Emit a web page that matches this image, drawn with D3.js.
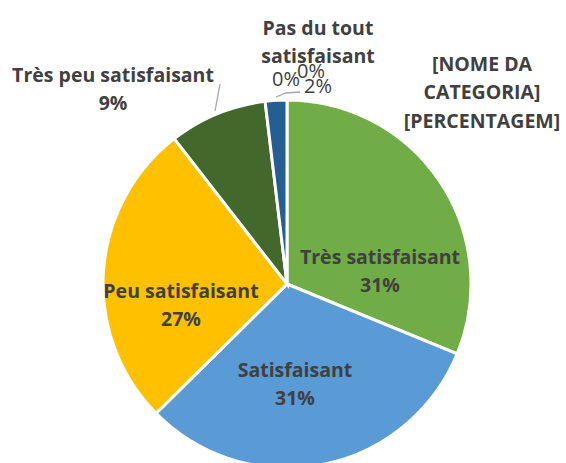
<!DOCTYPE html>
<html>
<head>
<meta charset="utf-8">
<script src="https://cdn.jsdelivr.net/npm/d3@7"></script>
<style>
  body { margin: 0; background: #fff; }
  text { font-family: "Open Sans", Lato, sans-serif; font-weight: bold; fill: #404040; }
</style>
</head>
<body>
<div id="chart"></div>
<script>
var w = 566;
var h = 463;

var categories = ["Très satisfaisant", "Satisfaisant", "Peu satisfaisant", "Très peu satisfaisant", "", "Pas du tout satisfaisant", "[NOME DA CATEGORIA]"];
var values = [31.2, 31.4, 26.9, 8.6, 1.9, 0, 0];
var colors = ["#70AD47", "#5B9BD5", "#FFC000", "#43682B", "#255E91", "#9E480E", "#636363"];

var cx = 287, cy = 284, radius = 184;

var svg = d3.select("#chart").append("svg")
  .attr("width", w)
  .attr("height", h);

var pie = d3.pie().sort(null).value(function(d) { return d; });
var arcs = pie(values);
var arc = d3.arc().innerRadius(0).outerRadius(radius);

var g = svg.append("g").attr("transform", "translate(" + cx + "," + cy + ")");

g.selectAll("path")
  .data(arcs)
  .enter()
  .append("path")
  .attr("d", arc)
  .attr("fill", function(d, i) { return colors[i]; })
  .attr("stroke", "#fff")
  .attr("stroke-width", function(d) { return d.value > 0 ? 3 : 0; });

function pct(v) { return Math.round(v) + "%"; }

// label placement (lines of text)
var labels = [
  { x: 380, y: 257, lines: [categories[0], pct(values[0])] },
  { x: 295, y: 370, lines: [categories[1], pct(values[1])] },
  { x: 181, y: 291, lines: [categories[2], pct(values[2])] },
  { x: 113, y: 75, lines: [categories[3], pct(values[3])] },
  { x: 318, y: 28, lines: ["Pas du tout", "satisfaisant"] },
  { x: 482, y: 64, lines: ["[NOME DA", "CATEGORIA]", "[PERCENTAGEM]"] }
];

var lh = 28.5;
labels.forEach(function(l) {
  var t = svg.append("text")
    .attr("text-anchor", "middle")
    .style("font-size", "19.5px");
  l.lines.forEach(function(s, k) {
    t.append("tspan")
      .attr("x", l.x)
      .attr("y", l.y + k * lh)
      .attr("dy", "0.35em")
      .text(s);
  });
});

// small percentages near the top
var small = [
  { text: pct(values[5]), x: 286, y: 79 },
  { text: pct(values[6]), x: 311, y: 71 },
  { text: pct(values[4]), x: 318, y: 86 }
];
svg.selectAll("text.small")
  .data(small)
  .enter()
  .append("text")
  .attr("class", "small")
  .attr("text-anchor", "middle")
  .attr("x", function(d) { return d.x; })
  .attr("y", function(d) { return d.y; })
  .attr("dy", "0.35em")
  .style("font-size", "20px")
  .style("font-weight", "normal")
  .text(function(d) { return d.text; });

// leader lines
var leaders = [
  [[215, 111], [220, 84]],
  [[276, 97], [286, 93], [300, 92]]
];
svg.selectAll("path.leader")
  .data(leaders)
  .enter()
  .append("path")
  .attr("class", "leader")
  .attr("d", d3.line())
  .attr("fill", "none")
  .attr("stroke", "#A6A6A6")
  .attr("stroke-width", 1.3);
</script>
</body>
</html>
